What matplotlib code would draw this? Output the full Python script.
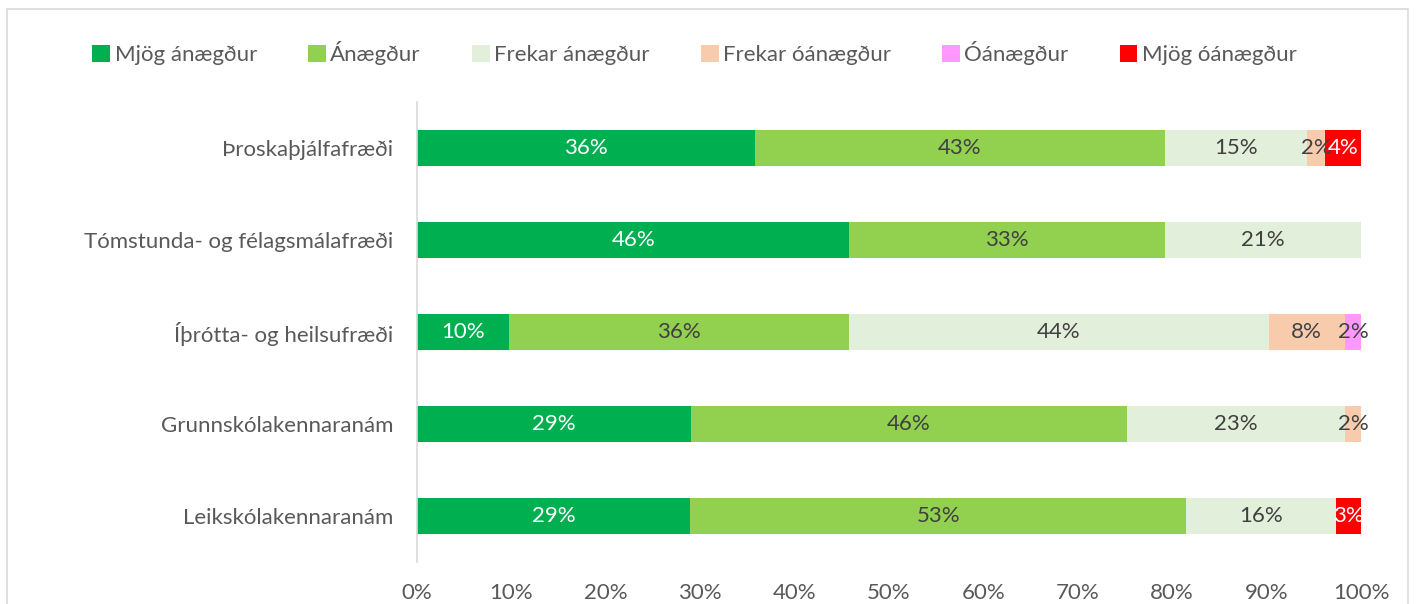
import matplotlib.pyplot as plt
from matplotlib.patches import Rectangle
from matplotlib.ticker import PercentFormatter

plt.rcParams['font.family'] = ['Lato', 'DejaVu Sans']

# categories from top to bottom
programs = ["Þroskaþjálfafræði", "Tómstunda- og félagsmálafræði",
            "Íþrótta- og heilsufræði", "Grunnskólakennaranám", "Leikskólakennaranám"]
levels = ["Mjög ánægður", "Ánægður", "Frekar ánægður",
          "Frekar óánægður", "Óánægður", "Mjög óánægður"]

mjog_anaegdur = [35.8, 45.8, 9.7, 29.0, 28.9]
anaegdur = [43.4, 33.4, 36.1, 46.2, 52.6]
frekar_anaegdur = [15.1, 20.8, 44.4, 23.1, 15.8]
frekar_oanaegdur = [1.9, 0, 8.1, 1.7, 0]
oanaegdur = [0, 0, 1.7, 0, 0]
mjog_oanaegdur = [3.8, 0, 0, 0, 2.7]

series = [mjog_anaegdur, anaegdur, frekar_anaegdur,
          frekar_oanaegdur, oanaegdur, mjog_oanaegdur]
colors = ["#00B050", "#92D050", "#E2EFDA", "#F8CBAD", "#FF99FF", "#FF0000"]
text_colors = ["white", "#404040", "#404040", "#404040", "#404040", "white"]

FS = 16

fig = plt.figure(figsize=(14.16, 6.04), dpi=100)
ax = fig.add_axes([0.2945, 0.0695, 0.6667, 0.7615])

ypos = list(range(len(programs)))
left = [0.0] * len(programs)
handles = []
for vals, col, tcol, name in zip(series, colors, text_colors, levels):
    bars = ax.barh(ypos, vals, left=left, height=0.39, color=col, label=name)
    handles.append(bars)
    for y, v, l in zip(ypos, vals, left):
        if v > 0:
            ax.text(l + v / 2, y, f"{round(v):.0f}%", ha='center', va='center',
                    color=tcol, fontsize=FS)
    left = [a + b for a, b in zip(left, vals)]

ax.set_xlim(0, 100)
ax.set_ylim(len(programs) - 0.5, -0.5)
ax.set_yticks(ypos)
ax.set_yticklabels(programs)
ax.set_xticks(range(0, 101, 10))
ax.xaxis.set_major_formatter(PercentFormatter(decimals=0))
ax.tick_params(length=0, labelsize=FS, labelcolor="#595959")
ax.tick_params(axis='y', pad=17)
ax.tick_params(axis='x', pad=15)
for s in ['top', 'right', 'bottom']:
    ax.spines[s].set_visible(False)
ax.spines['left'].set_color("#D9D9D9")
ax.spines['left'].set_linewidth(1.2)

leg = fig.legend(handles=handles, labels=levels, loc='center', ncol=6,
                 bbox_to_anchor=(0.4905, 0.912), frameon=False, fontsize=FS,
                 handlelength=0.8, handleheight=0.8, handletextpad=0.2,
                 columnspacing=2.3)
for t in leg.get_texts():
    t.set_color("#595959")

# chart border
fig.patches.append(Rectangle((7 / 1416, -0.1), 1401 / 1416, 1.1 - 9 / 604,
                             transform=fig.transFigure, fill=False,
                             edgecolor="#D9D9D9", linewidth=1.2))

fig.savefig("out.png", dpi=100)
